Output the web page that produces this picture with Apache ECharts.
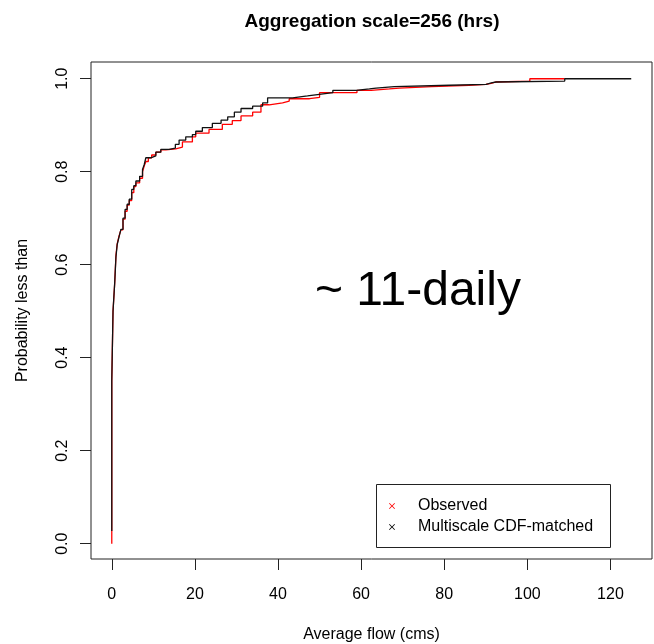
<!DOCTYPE html>
<html>
<head>
<meta charset="utf-8">
<script src="https://cdn.jsdelivr.net/npm/echarts@6/dist/echarts.min.js"></script>
<style>
  html, body { margin: 0; padding: 0; background: #fff; }
  #chart { width: 654px; height: 644px; }
</style>
</head>
<body>
<div id="chart"></div>
<script>
// observed ECDF: jump points (flow, probability)
const obsFlow = [0, 0, 0.3, 0.7, 1.0, 1.3, 1.75, 2.2, 2.7, 3.2, 3.7, 4.2, 4.8, 5.3, 5.8, 6.7, 7.4, 7.8, 8.2, 8.8,
  9.6, 10.6, 11.8, 13, 15.4, 17, 19.4, 20.2, 23.4, 26.6, 29, 31.1, 33.9, 35.9, 37.9, 41.1, 42.7, 47.6, 50, 59,
  62.4, 66.8, 69.2, 77, 86, 90, 91.3, 92.5, 100.6, 109];
const obsProb = [0.0, 0.35, 0.50, 0.56, 0.62, 0.645, 0.662, 0.675, 0.698, 0.715, 0.728, 0.738, 0.755, 0.768, 0.776, 0.786, 0.80, 0.812, 0.822, 0.83,
  0.836, 0.842, 0.847, 0.849, 0.853, 0.864, 0.875, 0.883, 0.891, 0.902, 0.910, 0.920, 0.928, 0.944, 0.948, 0.952, 0.957, 0.960, 0.970, 0.975,
  0.978, 0.980, 0.983, 0.986, 0.988, 0.990, 0.993, 0.995, 1.0, 1.0];

// multiscale CDF-matched ECDF
const simFlow = [0, 0, 0.3, 0.7, 1.0, 1.3, 1.75, 2.2, 2.7, 3.2, 3.7, 4.2, 4.8, 5.3, 5.8, 6.7, 7.4, 7.8, 8.2, 9.4,
  10.6, 11.8, 13.8, 15.3, 16.2, 17.8, 19.4, 20.2, 21.8, 24.2, 26.3, 27.9, 29.5, 31.1, 33.9, 36.3, 37.5, 43.5, 47.1, 49.5,
  53.2, 58.8, 62, 63.6, 68, 81.3, 90.1, 91.3, 92.5, 109, 125];
const simProb = [0.027, 0.35, 0.50, 0.56, 0.616, 0.643, 0.66, 0.676, 0.70, 0.719, 0.73, 0.741, 0.762, 0.77, 0.78, 0.79, 0.805, 0.815, 0.830, 0.834,
  0.842, 0.848, 0.851, 0.859, 0.868, 0.875, 0.880, 0.887, 0.895, 0.904, 0.911, 0.918, 0.928, 0.936, 0.941, 0.948, 0.959, 0.963, 0.966, 0.970,
  0.975, 0.978, 0.980, 0.983, 0.986, 0.988, 0.991, 0.993, 0.995, 1.0, 1.0];

const xTicks = [0, 20, 40, 60, 80, 100, 120];
const yTicks = [0, 0.2, 0.4, 0.6, 0.8, 1.0];

const seriesNames = ["Observed", "Multiscale CDF-matched"];

const font = "'Liberation Sans', Arial, sans-serif";
const chart = echarts.init(document.getElementById("chart"), null, { renderer: "canvas" });

chart.setOption({
  animation: false,
  color: ["#ff0000", "#000000"],
  title: {
    text: "Aggregation scale=256 (hrs)",
    left: 367,
    top: 7,
    textAlign: "center",
    textStyle: { fontFamily: font, fontSize: 19, fontWeight: "bold", color: "#000" }
  },
  grid: {
    left: 91, top: 62, right: 2, bottom: 85,
    outerBoundsMode: "none",
    show: true, borderColor: "#222", borderWidth: 1, backgroundColor: "transparent"
  },
  legend: {
    data: seriesNames,
    orient: "vertical",
    left: 389,
    top: 498,
    padding: 0,
    itemGap: 5,
    itemWidth: 6,
    itemHeight: 6,
    icon: "path://M0,1L1,0L5,4L9,0L10,1L6,5L10,9L9,10L5,6L1,10L0,9L4,5Z",
    textStyle: { fontFamily: font, fontSize: 16, color: "#000", padding: [0, 0, 0, 18] }
  },
  graphic: [
    {
      type: "rect",
      shape: { x: 376.5, y: 484.5, width: 234, height: 63 },
      style: { fill: "none", stroke: "#222", lineWidth: 1 },
      z: 100
    },
    {
      type: "text",
      x: 315, y: 292,
      style: { text: "~ 11-daily", font: "48px " + font, fill: "#000", align: "left", verticalAlign: "middle" },
      z: 100
    }
  ],
  xAxis: {
    type: "value",
    min: -5,
    max: 130,
    name: "Average flow (cms)",
    nameLocation: "middle",
    nameGap: 68,
    nameMoveOverlap: false,
    nameTextStyle: { fontFamily: font, fontSize: 16, color: "#000" },
    axisLine: { show: false, onZero: false },
    axisTick: { show: true, length: 11, customValues: xTicks, lineStyle: { color: "#222" } },
    axisLabel: { customValues: xTicks, margin: 28, fontFamily: font, fontSize: 16, color: "#000" },
    splitLine: { show: false }
  },
  yAxis: {
    type: "value",
    min: -0.033,
    max: 1.036,
    name: "Probability less than",
    nameLocation: "middle",
    nameGap: 60,
    nameMoveOverlap: false,
    nameTextStyle: { fontFamily: font, fontSize: 16, color: "#000" },
    axisLine: { show: false, onZero: false },
    axisTick: { show: true, length: 11, customValues: yTicks, lineStyle: { color: "#222" } },
    axisLabel: {
      customValues: yTicks, rotate: 90, margin: 20,
      fontFamily: font, fontSize: 16, color: "#000",
      formatter: (v) => v.toFixed(1)
    },
    splitLine: { show: false }
  },
  series: [
    {
      name: seriesNames[0],
      type: "line",
      step: "end",
      symbol: "none",
      lineStyle: { width: 1.3, color: "#ff0000" },
      data: obsFlow.map((x, i) => [x, obsProb[i]]),
      z: 2
    },
    {
      name: seriesNames[1],
      type: "line",
      step: "end",
      symbol: "none",
      lineStyle: { width: 1.3, color: "#111111" },
      itemStyle: { color: "#000000" },
      data: simFlow.map((x, i) => [x, simProb[i]]),
      z: 3
    }
  ]
});
</script>
</body>
</html>
